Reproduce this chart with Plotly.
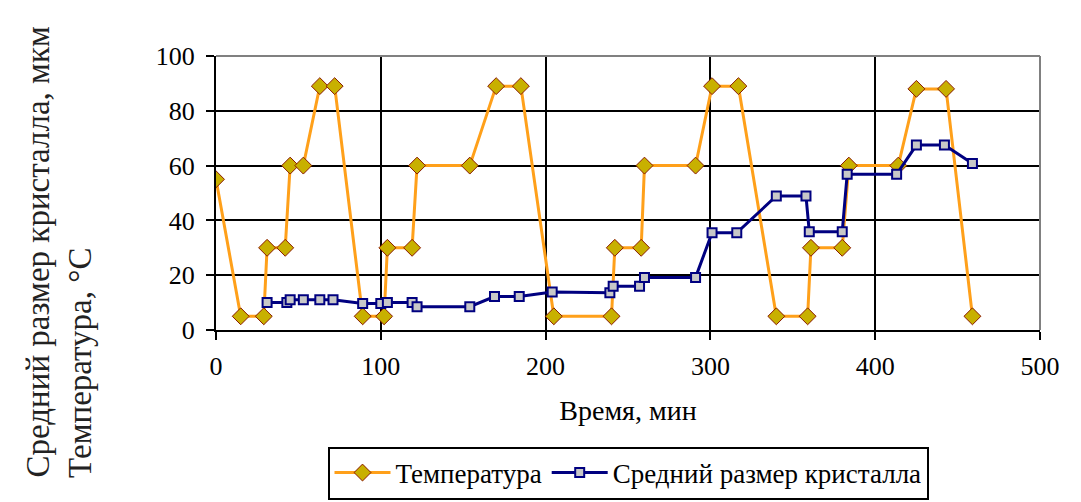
import plotly.graph_objects as go

temp_time = [0, 15, 29, 31, 42, 45, 53, 63, 72, 89, 102, 104, 119, 122, 154, 170, 185,
             205, 240, 242, 258, 260, 291, 301, 317, 340, 359, 361, 380, 384, 414, 425, 443, 459]
temp_vals = [55, 5, 5, 30, 30, 60, 60, 89, 89, 5, 5, 30, 30, 60, 60, 89, 89,
             5, 5, 30, 30, 60, 60, 89, 89, 5, 5, 30, 30, 60, 60, 88, 88, 5]

size_time = [31, 43, 45, 53, 63, 71, 89, 100, 104, 119, 122, 154, 169, 184, 204, 239, 241,
             257, 260, 291, 301, 316, 340, 358, 360, 380, 383, 413, 425, 442, 459]
size_vals = [10, 10, 11, 11, 11, 11, 9.7, 9.7, 10, 10, 8.5, 8.5, 12.2, 12.2, 13.9, 13.6, 16,
             16, 19.2, 19.2, 35.5, 35.5, 48.9, 48.9, 35.9, 35.9, 56.8, 56.8, 67.5, 67.5, 60.8]

x_ticks = [0, 100, 200, 300, 400, 500]
y_ticks = [0, 20, 40, 60, 80, 100]

FONT = "Liberation Serif"

fig = go.Figure()
fig.add_trace(go.Scatter(
    x=temp_time, y=temp_vals, mode="lines+markers", name="Температура",
    line=dict(color="#FFA01A", width=3),
    marker=dict(symbol="diamond", size=13, color="#C8B000",
                line=dict(color="#8B1A00", width=1)),
))
fig.add_trace(go.Scatter(
    x=size_time, y=size_vals, mode="lines+markers", name="Средний размер кристалла",
    line=dict(color="#000080", width=3),
    marker=dict(symbol="square", size=9, color="#C8C8C8",
                line=dict(color="#000080", width=2)),
))

fig.update_layout(
    width=1073, height=494,
    margin=dict(l=208, r=41, t=48, b=172),
    paper_bgcolor="white", plot_bgcolor="white",
    font=dict(family=FONT, size=26, color="black"),
    showlegend=True,
    legend=dict(orientation="h", xref="paper", x=0.5, xanchor="center",
                yref="container", y=1 - 465 / 494, yanchor="middle",
                bordercolor="black", borderwidth=2, font=dict(size=27),
                itemwidth=56, tracegroupgap=0),
    xaxis=dict(range=[0, 500], tickvals=x_ticks, showgrid=True, gridcolor="black",
               gridwidth=2, showline=True, linecolor="black", linewidth=2,
               ticks="outside", ticklen=8, tickwidth=2, tickcolor="black",
               zeroline=False, mirror=False, ticklabelstandoff=4,
               title=dict(text="Время, мин", standoff=20, font=dict(size=28))),
    yaxis=dict(range=[0, 100], tickvals=y_ticks, showgrid=True, gridcolor="black",
               gridwidth=2, showline=True, linecolor="black", linewidth=2,
               ticks="outside", ticklen=8, tickwidth=2, tickcolor="black",
               zeroline=False, ticklabelstandoff=6),
    shapes=[
        dict(type="line", xref="paper", yref="paper", x0=0, x1=1, y0=1, y1=1,
             line=dict(color="#808080", width=2)),
        dict(type="line", xref="paper", yref="paper", x0=1, x1=1, y0=0, y1=1,
             line=dict(color="#808080", width=2)),
    ],
    annotations=[
        dict(text="Средний размер кристалла, мкм", xref="paper", yref="paper",
             x=-0.216, y=-0.547, xanchor="center", yanchor="bottom", textangle=-90,
             showarrow=False, font=dict(size=33, color="#222222")),
        dict(text="Температура, °C", xref="paper", yref="paper",
             x=-0.165, y=-0.547, xanchor="center", yanchor="bottom", textangle=-90,
             showarrow=False, font=dict(size=33, color="#222222")),
    ],
)

fig.write_html("out.html")
